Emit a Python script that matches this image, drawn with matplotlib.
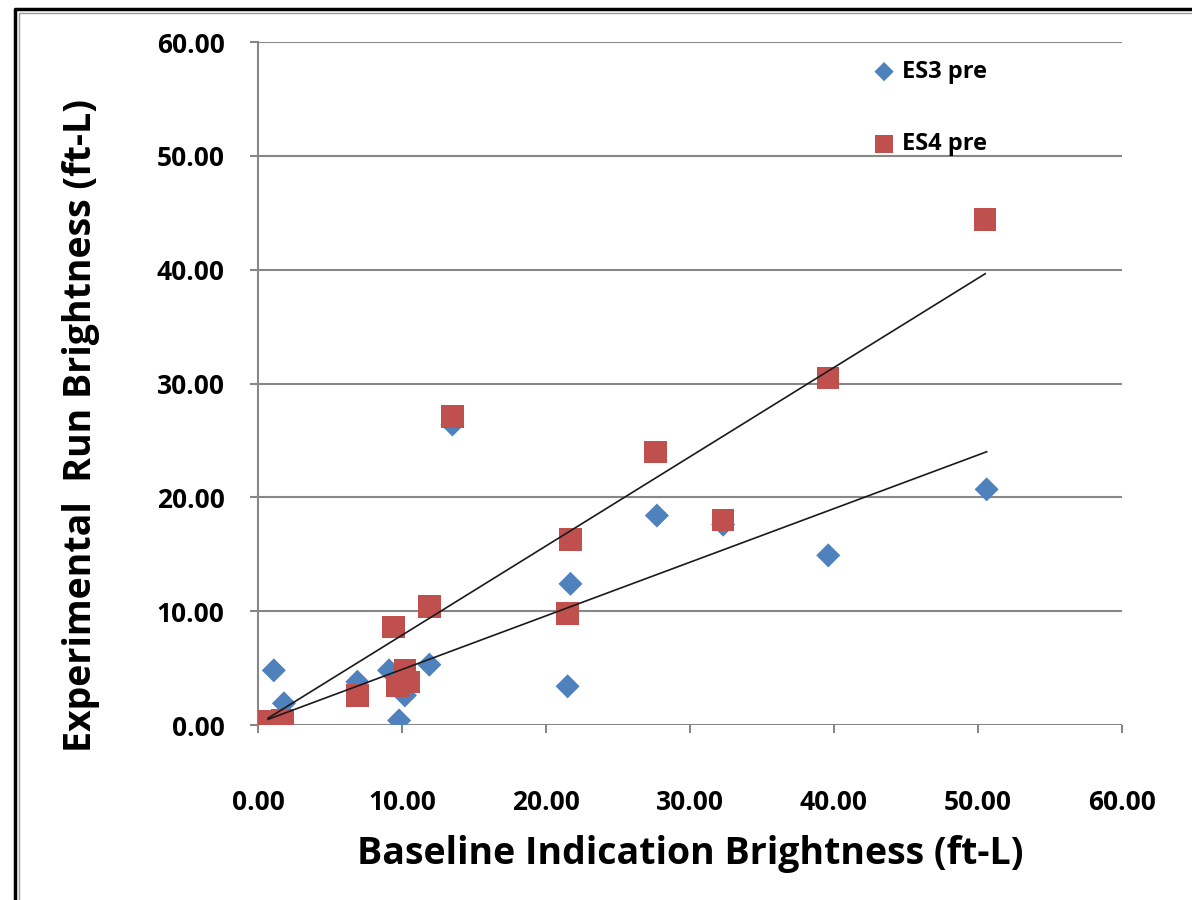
import matplotlib
matplotlib.use("Agg")
import matplotlib.pyplot as plt
from matplotlib.lines import Line2D
import numpy as np

# ---- data ----
es3_x = [0.7, 1.1, 1.8, 6.9, 9.1, 9.8, 10.2, 11.9, 13.5, 21.5, 21.7, 27.7, 32.3, 39.6, 50.6]
es3_y = [0.2, 4.8, 1.9, 3.8, 4.8, 0.4, 2.6, 5.3, 26.4, 3.4, 12.4, 18.4, 17.6, 14.9, 20.7]
es4_x = [0.7, 1.7, 6.9, 9.4, 9.7, 10.2, 10.5, 11.9, 13.5, 21.5, 21.7, 27.6, 32.3, 39.6, 50.5]
es4_y = [0.3, 0.4, 2.6, 8.6, 3.4, 4.8, 3.8, 10.4, 27.1, 9.8, 16.3, 24.0, 18.0, 30.5, 44.4]

# linear trendlines (slope, intercept)
es3_trend = (0.471, 0.17)
es4_trend = (0.784, 0.05)

x_ticks = [0, 10, 20, 30, 40, 50, 60]
y_ticks = [0, 10, 20, 30, 40, 50, 60]
series_names = ["ES3 pre", "ES4 pre"]
x_label = "Baseline Indication Brightness (ft-L)"
y_label = "Experimental  Run Brightness (ft-L)"

blue = "#4F81BD"
red = "#C0504D"
grid_c = "#878787"
FONT = "Open Sans"

fig = plt.figure(figsize=(11.92, 9.0), dpi=100)
ax = fig.add_axes([258/1192, 1-725/900, (1122-258)/1192, (725-42)/900])

ax.set_xlim(0, 60)
ax.set_ylim(0, 60)

for y in y_ticks:
    ax.axhline(y, color=grid_c, lw=1.5, zorder=1)

ax.scatter(es3_x, es3_y, marker="D", s=150, color=blue, edgecolors="none", zorder=3, label=series_names[0])
ax.scatter(es4_x, es4_y, marker="s", s=260, color=red, edgecolors="none", zorder=4, label=series_names[1])

for xs, (m, b) in ((es3_x, es3_trend), (es4_x, es4_trend)):
    xx = np.array([min(xs), max(xs)])
    ax.plot(xx, m*xx + b, color="#1a1a1a", lw=1.2, zorder=5)

for s in ["top", "right", "bottom"]:
    ax.spines[s].set_visible(False)
ax.spines["left"].set_color(grid_c)
ax.spines["left"].set_linewidth(1.5)

ax.set_xticks(x_ticks)
ax.set_yticks(y_ticks)
ax.set_xticklabels([f"{v:.2f}" for v in x_ticks], fontfamily=FONT, fontweight="bold", fontsize=19)
ax.set_yticklabels([f"{v:.2f}" for v in y_ticks], fontfamily=FONT, fontweight="bold", fontsize=19)
ax.tick_params(axis="y", direction="out", length=6, width=1.5, color=grid_c, pad=18)
ax.tick_params(axis="x", direction="out", length=6, width=1.5, color=grid_c, pad=40)

ax.set_xlabel(x_label, fontfamily=FONT, fontweight="bold", fontsize=27, labelpad=14)
ax.set_ylabel(y_label, fontfamily=FONT, fontweight="bold", fontsize=27)
ax.yaxis.set_label_coords(-0.183, 0.439)

leg = ax.legend(loc="upper left", bbox_to_anchor=(0.685, 1.005), frameon=False,
                prop={"family": FONT, "weight": "bold", "size": 17},
                labelspacing=2.05, handletextpad=0.2, handlelength=1.1,
                scatterpoints=1, markerscale=0.8)

# outer border (left and top only visible)
fig.add_artist(Line2D([15/1192, 15/1192, 1.0], [0.0, 1-9/900, 1-9/900], color="black", lw=2.5, transform=fig.transFigure))
fig.add_artist(Line2D([19/1192, 19/1192, 1.0], [0.0, 1-13/900, 1-13/900], color="#9a9a9a", lw=1.0, transform=fig.transFigure))

fig.savefig("out.png", dpi=100)
